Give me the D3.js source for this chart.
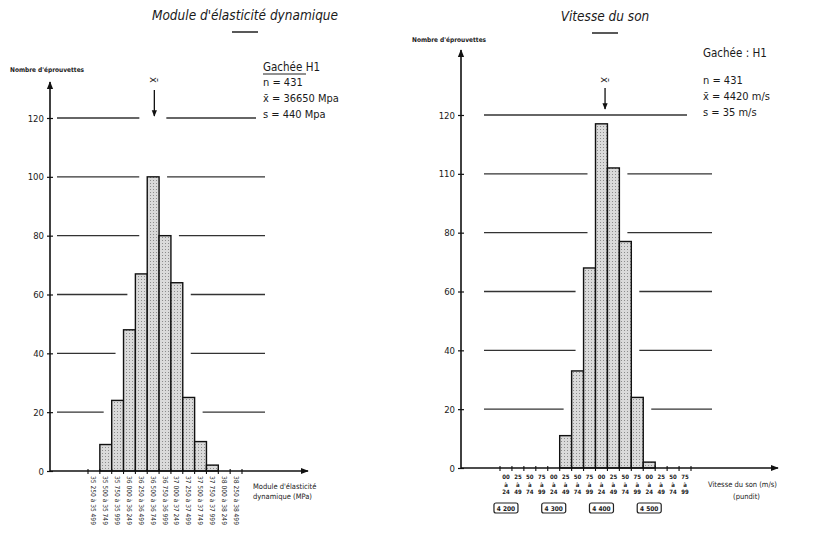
<!DOCTYPE html>
<html>
<head>
<meta charset="utf-8">
<script src="https://cdn.jsdelivr.net/npm/d3@7"></script>
<style>
  body { margin: 0; background: #fff; }
  svg text { font-family: "DejaVu Sans Condensed", "DejaVu Sans", sans-serif; fill: #1a1a1a; }
</style>
</head>
<body>
<svg id="chart" width="814" height="533"></svg>
<script>
// y ticks shared by both panels
const yTicks = [0, 20, 40, 60, 80, 100, 120];

// left panel: dynamic modulus (MPa)
const modTickLabels = ["0", "20", "40", "60", "80", "100", "120"];
const modBins = [
  "35 250 à 35 499", "35 500 à 35 749", "35 750 à 35 999", "36 000 à 36 249",
  "36 250 à 36 499", "36 500 à 36 749", "36 750 à 36 999", "37 000 à 37 249",
  "37 250 à 37 499", "37 500 à 37 749", "37 750 à 37 999", "38 000 à 38 249",
  "38 250 à 38 499"
];
const modCounts = [0, 9, 24, 48, 67, 100, 80, 64, 25, 10, 2, 0, 0];
const modStats = ["n = 431", "x̄ = 36650 Mpa", "s = 440 Mpa"];

// right panel: sound velocity (m/s)
const sonTickLabels = ["0", "20", "40", "60", "80", "110", "120"];
const sonFrom = ["00", "25", "50", "75", "00", "25", "50", "75", "00", "25", "50", "75", "00", "25", "50", "75"];
const sonTo = ["24", "49", "74", "99", "24", "49", "74", "99", "24", "49", "74", "99", "24", "49", "74", "99"];
const sonCounts = [0, 0, 0, 0, 0, 11, 33, 68, 117, 102, 77, 24, 2, 0, 0, 0];
const sonGroups = ["4 200", "4 300", "4 400", "4 500"];
const sonStats = ["n = 431", "x̄ = 4420 m/s", "s = 35 m/s"];

const svg = d3.select("#chart");
const defs = svg.append("defs");

const pat = defs.append("pattern")
  .attr("id", "dots")
  .attr("width", 3).attr("height", 3)
  .attr("patternUnits", "userSpaceOnUse");
pat.append("rect").attr("width", 3).attr("height", 3).attr("fill", "#dadada");
pat.append("rect").attr("width", 1).attr("height", 1).attr("fill", "#8c8c8c");

defs.append("marker")
  .attr("id", "arrow")
  .attr("viewBox", "0 0 10 10")
  .attr("refX", 9).attr("refY", 5)
  .attr("markerWidth", 5).attr("markerHeight", 5)
  .attr("markerUnits", "strokeWidth")
  .attr("orient", "auto")
  .append("path")
  .attr("d", "M0,1 L10,5 L0,9 Z")
  .attr("fill", "#111");

function histogram(opt) {
  const g = svg.append("g");
  const n = opt.counts.length;

  const x = d3.scaleBand().domain(d3.range(n)).range(opt.xRange).padding(0);
  const y = d3.scaleLinear().domain([0, 120]).range(opt.yRange);
  const xv = d3.scaleLinear().domain(opt.valueDomain).range(opt.xRange);
  const meanX = xv(opt.mean);

  // title + short underline
  g.append("text")
    .attr("x", opt.titleX).attr("y", opt.titleY)
    .attr("text-anchor", "middle")
    .attr("font-size", 13.5).attr("font-style", "italic")
    .text(opt.title);
  g.append("line")
    .attr("x1", opt.titleX - 13).attr("x2", opt.titleX + 13)
    .attr("y1", opt.titleY + 12).attr("y2", opt.titleY + 12)
    .attr("stroke", "#222").attr("stroke-width", 1.5);

  // y label
  g.append("text")
    .attr("x", opt.yLabelX).attr("y", opt.yLabelY)
    .attr("font-size", 6.5).attr("font-weight", "bold")
    .text("Nombre  d'éprouvettes");

  // horizontal reference lines, broken around the bars that reach them
  const gap = 8;
  yTicks.slice(1).forEach((level) => {
    const hit = opt.counts.map((c, i) => (c >= level ? i : -1)).filter((i) => i >= 0);
    const top = level === 120;
    const end = top ? opt.topLineEnd : opt.lineEnd;
    let segs;
    if (hit.length) {
      segs = [
        [opt.lineStart, x(hit[0]) - gap],
        [x(hit[hit.length - 1]) + x.bandwidth() + gap, end]
      ];
    } else if (opt.cutAtMean) {
      segs = [[opt.lineStart, meanX - 15], [meanX + 12, end]];
    } else {
      segs = [[opt.lineStart, end]];
    }
    segs.forEach(([a, b]) => {
      g.append("line")
        .attr("x1", a).attr("x2", b)
        .attr("y1", y(level)).attr("y2", y(level))
        .attr("stroke", "#333").attr("stroke-width", 1.3);
    });
  });

  // bars (empty bins are left out)
  const binData = opt.counts.map((c, i) => ({ i, c })).filter((d) => d.c > 0);
  g.append("g")
    .selectAll("rect")
    .data(binData)
    .join("rect")
    .attr("x", (d) => x(d.i))
    .attr("y", (d) => y(d.c))
    .attr("width", x.bandwidth())
    .attr("height", (d) => y(0) - y(d.c))
    .attr("fill", "url(#dots)")
    .attr("stroke", "#111")
    .attr("stroke-width", 1.4);

  // y axis
  const yAxis = g.append("g")
    .attr("transform", `translate(${opt.axisX},0)`)
    .call(d3.axisLeft(y).tickValues(yTicks).tickFormat((d, i) => opt.tickLabels[i]).tickSize(3).tickPadding(3));
  yAxis.select(".domain").remove();
  yAxis.selectAll(".tick line").attr("stroke", "#111").attr("stroke-width", 1.2).attr("x2", 3).attr("x1", -3);
  yAxis.selectAll(".tick text").attr("font-size", 9.5).attr("font-family", "DejaVu Sans Condensed, sans-serif");

  g.append("line")
    .attr("x1", opt.axisX).attr("x2", opt.axisX)
    .attr("y1", y(0)).attr("y2", opt.yArrowTip)
    .attr("stroke", "#111").attr("stroke-width", 1.6)
    .attr("marker-end", "url(#arrow)");

  // x axis
  g.append("line")
    .attr("x1", opt.axisX).attr("x2", opt.xArrowTip)
    .attr("y1", y(0)).attr("y2", y(0))
    .attr("stroke", "#111").attr("stroke-width", 1.6)
    .attr("marker-end", "url(#arrow)");

  g.append("g")
    .selectAll("line")
    .data(d3.range(n + 1))
    .join("line")
    .attr("x1", (i) => opt.xRange[0] + i * x.step())
    .attr("x2", (i) => opt.xRange[0] + i * x.step())
    .attr("y1", y(0) - 2).attr("y2", y(0) + 3)
    .attr("stroke", "#111").attr("stroke-width", 1.1);

  // mean marker
  g.append("text")
    .attr("transform", `translate(${meanX - 4},${opt.meanTextY}) rotate(90)`)
    .attr("font-size", 11)
    .text("x̄");
  g.append("line")
    .attr("x1", meanX).attr("x2", meanX)
    .attr("y1", opt.meanArrow[0]).attr("y2", opt.meanArrow[1])
    .attr("stroke", "#111").attr("stroke-width", 1.3)
    .attr("marker-end", "url(#arrow)");

  // stats block
  const s = g.append("g").attr("font-size", 11);
  s.append("text")
    .attr("x", opt.statsX).attr("y", opt.statsY[0])
    .attr("font-size", 11.5)
    .text(opt.batch);
  if (opt.underlineBatch) {
    s.append("line")
      .attr("x1", opt.statsX).attr("x2", opt.statsX + 43)
      .attr("y1", opt.statsY[0] + 3).attr("y2", opt.statsY[0] + 3)
      .attr("stroke", "#222").attr("stroke-width", 1);
  }
  opt.stats.forEach((t, i) => {
    s.append("text").attr("x", opt.statsX).attr("y", opt.statsY[i + 1]).text(t);
  });

  // x axis title
  opt.xTitle.forEach((t, i) => {
    g.append("text")
      .attr("x", opt.xTitlePos[i][0]).attr("y", opt.xTitlePos[i][1])
      .attr("font-size", 7.5)
      .text(t);
  });

  return { g, x, y };
}

// ---- left: module d'élasticité dynamique
const left = histogram({
  counts: modCounts,
  tickLabels: modTickLabels,
  xRange: [88, 242],
  yRange: [471, 118],
  valueDomain: [35250, 38500],
  mean: 36650,
  axisX: 50,
  yArrowTip: 82,
  xArrowTip: 308,
  lineStart: 57,
  lineEnd: 265,
  topLineEnd: 256,
  cutAtMean: true,
  title: "Module d'élasticité dynamique",
  titleX: 245, titleY: 20,
  yLabelX: 10, yLabelY: 72,
  meanTextY: 77,
  meanArrow: [90, 116],
  statsX: 263,
  statsY: [71, 86, 102, 118],
  batch: "Gachée  H1",
  underlineBatch: true,
  stats: modStats,
  xTitle: ["Module  d'élasticité", "dynamique (MPa)"],
  xTitlePos: [[253, 489], [253, 499]]
});

left.g.append("g")
  .selectAll("text")
  .data(modBins)
  .join("text")
  .attr("transform", (d, i) => `translate(${left.x(i) + left.x.bandwidth() / 2 - 2.5},476) rotate(90)`)
  .attr("font-size", 6.6)
  .text((d) => d);

// ---- right: vitesse du son
const right = histogram({
  counts: sonCounts,
  tickLabels: sonTickLabels,
  xRange: [500, 691],
  yRange: [468, 115],
  valueDomain: [4200, 4600],
  mean: 4420,
  axisX: 461,
  yArrowTip: 50,
  xArrowTip: 778,
  lineStart: 484,
  lineEnd: 712,
  topLineEnd: 687,
  cutAtMean: false,
  title: "Vitesse du son",
  titleX: 605, titleY: 21,
  yLabelX: 412, yLabelY: 42,
  meanTextY: 77,
  meanArrow: [88, 109],
  statsX: 703,
  statsY: [57, 84, 100, 116],
  batch: "Gachée : H1",
  underlineBatch: false,
  stats: sonStats,
  xTitle: ["Vitesse du son (m/s)", "(pundit)"],
  xTitlePos: [[708, 487], [733, 499]]
});

const sonLab = right.g.append("g")
  .selectAll("text")
  .data(sonFrom)
  .join("text")
  .attr("text-anchor", "middle")
  .attr("font-size", 6)
  .attr("font-weight", "bold");
sonLab.each(function (d, i) {
  const cx = right.x(i) + right.x.bandwidth() / 2;
  const t = d3.select(this);
  [d, "à", sonTo[i]].forEach((line, k) => {
    t.append("tspan").attr("x", cx).attr("y", 479 + k * 7.5).text(line);
  });
});

right.g.append("g")
  .selectAll("g")
  .data(sonGroups)
  .join("g")
  .attr("transform", (d, i) => `translate(${right.x(i * 4) + right.x.bandwidth() / 2},508)`)
  .each(function (d) {
    const b = d3.select(this);
    b.append("rect")
      .attr("x", -12).attr("y", -5).attr("width", 24).attr("height", 10)
      .attr("rx", 2).attr("fill", "#fff")
      .attr("stroke", "#222").attr("stroke-width", 1.2);
    b.append("text")
      .attr("text-anchor", "middle").attr("y", 2.5)
      .attr("font-size", 6.5).attr("font-weight", "bold")
      .text(d);
  });
</script>
</body>
</html>
